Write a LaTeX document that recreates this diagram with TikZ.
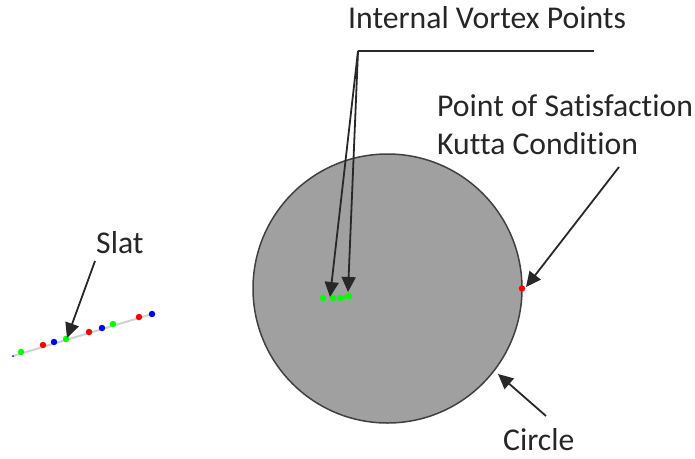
\documentclass[tikz,border=0pt]{standalone}
\usepackage{fontspec}
\setmainfont[Ligatures=NoCommon]{Carlito}
\usetikzlibrary{arrows.meta}
\definecolor{disc}{RGB}{160,160,160}
\definecolor{line}{RGB}{40,40,40}
\tikzset{
  x=1pt,y=-1pt,
  lbl/.style={inner sep=0pt,font=\fontsize{31.7}{36}\selectfont,text=black!85,anchor=base west},
  conn/.style={draw=line,line width=1.8pt,-{Triangle[length=15pt,width=14pt]}},
  plain/.style={draw=line,line width=1.8pt},
  dotg/.style={circle,fill=green,inner sep=0pt,minimum size=6.5pt},
  dotr/.style={circle,fill=red,inner sep=0pt,minimum size=6.5pt},
  dotb/.style={circle,fill=blue,inner sep=0pt,minimum size=6.5pt},
  dott/.style={circle,fill=blue,inner sep=0pt,minimum size=2pt},
}
\begin{document}
\begin{tikzpicture}
\useasboundingbox (0,0) rectangle (695,458);
% circle
\node[circle,draw=black!75,fill=disc,line width=1.5pt,minimum size=269pt,inner sep=0pt] (circ) at (387.5,288.5) {};
% slat
\coordinate (s0) at (13,356);
\coordinate (s1) at (152,314);
\draw[black!18,line width=2pt] (s0) -- (s1);
\node[dott] (a0) at (13,356) {};
\node[dotg] (a1) at (21,352) {};
\node[dotr] (a2) at (43,345) {};
\node[dotb] (a3) at (54,342) {};
\node[dotg] (a4) at (66,339) {};
\node[dotr] (a5) at (89,332) {};
\node[dotb] (a6) at (102,328) {};
\node[dotg] (a7) at (113,324) {};
\node[dotr] (a8) at (139,317) {};
\node[dotb] (a9) at (152,314) {};
% vortex points
\node[dotg] (v1) at (323,298) {};
\node[dotg] (v2) at (333,298) {};
\node[dotg] (v3) at (340,298) {};
\node[dotg] (v4) at (349,296) {};
\draw[green,line width=3.5pt] (v3) -- (v4);
\node[dotr] (k) at (522,288.5) {};
% labels
\node[lbl] (tiv) at (348,28.5) {Internal Vortex Points};
\node[lbl] (tps) at (437,116.5) {Point of Satisfaction};
\node[lbl] (tkc) at (437,154.5) {Kutta Condition};
\node[lbl] (tsl) at (96,253) {Slat};
\node[lbl] (tci) at (503,450) {Circle};
% connectors
\coordinate (jn) at (358,51);
\coordinate (je) at (594,51);
\coordinate (v1t) at (330,297);
\coordinate (v4t) at (348,292);
\coordinate (st) at (95,261);
\coordinate (sh) at (67,338);
\coordinate (kt) at (619,167);
\coordinate (kh) at (526,287);
\coordinate (ct) at (546,416);
\coordinate (ch) at (498,374);
\draw[plain] (je) -- (jn);
\draw[conn] (jn) -- (v1t);
\draw[conn] (jn) -- (v4t);
\draw[conn] (st) -- (sh);
\draw[conn] (kt) -- (kh);
\draw[conn] (ct) -- (ch);
\end{tikzpicture}
\end{document}
